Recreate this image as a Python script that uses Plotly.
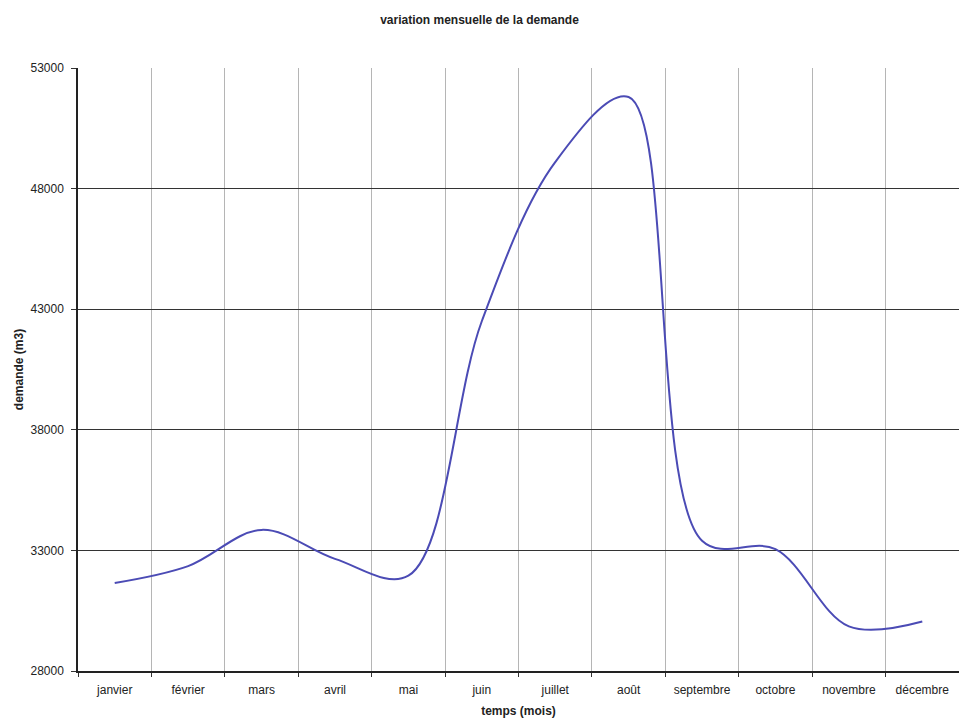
import plotly.graph_objects as go

# Monthly demand (m3)
mois = ["janvier", "février", "mars", "avril", "mai", "juin",
        "juillet", "août", "septembre", "octobre", "novembre", "décembre"]
demande = [31650, 32350, 33850, 32650, 31950, 42500,
           49100, 51800, 33400, 33050, 29850, 30050]

y_ticks = [28000, 33000, 38000, 43000, 48000, 53000]

font_family = "Liberation Sans, Arial, sans-serif"

fig = go.Figure(
    go.Scatter(
        x=mois,
        y=demande,
        mode="lines",
        line=dict(shape="spline", smoothing=1.0, color="#4b4bb5", width=2),
        showlegend=False,
    )
)

fig.update_layout(
    width=959,
    height=722,
    margin=dict(l=78, r=0, t=68, b=51),
    paper_bgcolor="white",
    plot_bgcolor="white",
    font=dict(family=font_family, size=12, color="#222"),
    title=dict(
        text="<b>variation mensuelle de la demande</b>",
        x=0.5, xanchor="center", y=0.973, yanchor="middle",
        font=dict(size=12, color="#222"),
    ),
)

fig.update_xaxes(
    type="category",
    tickson="boundaries",
    ticks="outside",
    ticklen=4,
    tickcolor="#333",
    ticklabelstandoff=7,
    showline=True,
    linecolor="#222",
    linewidth=1.5,
    showgrid=True,
    gridcolor="#b5b5b5",
    gridwidth=1,
    tickfont=dict(size=12, color="#222"),
    title=dict(text="<b>temps (mois)</b>", font=dict(size=12, color="#222"), standoff=10),
    range=[-0.5, 11.5],
)

fig.update_yaxes(
    range=[28000, 53000],
    tickvals=y_ticks,
    ticktext=[str(v) for v in y_ticks],
    ticks="outside",
    ticklen=5,
    tickcolor="#333",
    ticklabelstandoff=5,
    showline=True,
    linecolor="#222",
    linewidth=1.5,
    showgrid=True,
    gridcolor="#333",
    gridwidth=1,
    zeroline=False,
    tickfont=dict(size=12, color="#222"),
    title=dict(text="<b>demande (m3)</b>", font=dict(size=12, color="#222"), standoff=4),
)

fig.write_html("out.html")
